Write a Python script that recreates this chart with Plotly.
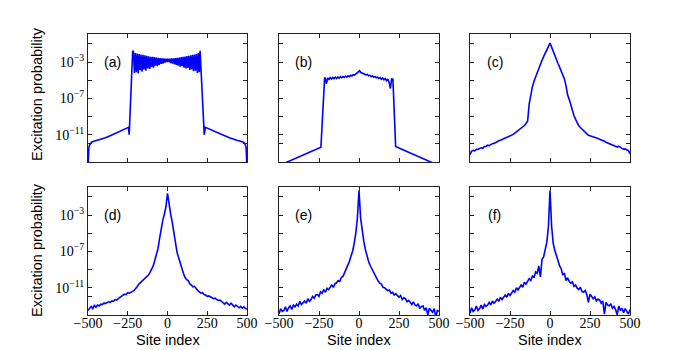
import plotly.graph_objects as go

# log10 of the excitation probability

# (a) sharp plateau with fast oscillations
site_a = [-500, -498, -495, -490, -485, -478, -468, -455, -440, -420, -390, -360, -330, -300, -270, -246,
          -241, -237, -219,
          -214, -208, -202, -196, -190, -184, -178, -172, -166, -160, -154, -148, -142, -136, -130, -124,
          -118, -112, -106, -100, -94, -88, -82, -76, -70, -64, -58, -52, -46, -40, -34, -28, -22, -16,
          -10, -4, 2, 8, 14, 20, 26, 32, 38, 44, 50, 56, 62, 68, 74, 80, 86, 92, 98, 104, 110, 116, 122,
          128, 134, 140, 146, 152, 158, 164, 170, 176, 182, 188, 194, 200,
          205, 228, 231, 238, 270, 300, 330, 360, 390, 420, 440, 455, 468, 478, 485, 490, 495, 498, 500]
logp_a = [-15, -13.2, -12.5, -12.1, -11.95, -11.82, -11.74, -11.68, -11.62, -11.52, -11.33, -11.1, -10.87,
          -10.62, -10.4, -10.18,
          -11.0, -9.6, -1.75,
          -1.85, -4.2, -2.0, -4.1, -2.05, -4.25, -2.1, -3.9, -2.15, -4.05, -2.2, -3.8, -2.25, -3.95, -2.3,
          -3.7, -2.35, -3.75, -2.4, -3.55, -2.42, -3.6, -2.45, -3.4, -2.5, -3.45, -2.52, -3.3, -2.55, -3.2,
          -2.58, -3.15, -2.6, -3.05, -2.62, -3.0, -2.63, -3.0, -2.62, -3.1, -2.6, -3.15, -2.58, -3.25, -2.55,
          -3.3, -2.52, -3.4, -2.5, -3.5, -2.45, -3.45, -2.42, -3.6, -2.38, -3.7, -2.33, -3.65, -2.3, -3.85,
          -2.25, -3.8, -2.2, -4.0, -2.15, -3.95, -2.1, -4.2, -2.0, -4.1,
          -1.75, -9.2, -11.0, -10.18, -10.4, -10.62, -10.86, -11.1, -11.33, -11.54, -11.63, -11.68, -11.74,
          -11.82, -11.95, -12.1, -12.5, -13.2, -15]

# (b) plateau with a small bump in the middle
site_b = [-500, -450, -400, -350, -300, -260, -238, -215,
          -212, -204, -196, -188, -180, -172, -164, -156, -148, -140, -132, -124, -116, -108, -100, -92,
          -84, -76, -68, -60, -52, -44, -36, -28, -20, -12, -4, 4, 12, 20, 28, 36, 44, 52, 60, 68, 76, 84,
          92, 100, 108, 116, 124, 132, 140, 148, 156, 164, 172, 180, 188, 196, 204,
          212, 229, 260, 300, 350, 400, 446, 500]
logp_b = [-14.4, -14.0, -13.62, -13.23, -12.85, -12.54, -12.37, -4.75,
          -4.7, -5.4, -4.75, -4.9, -4.7, -4.85, -4.68, -4.82, -4.66, -4.8, -4.64, -4.76, -4.6, -4.72, -4.58,
          -4.68, -4.55, -4.66, -4.5, -4.6, -4.45, -4.52, -4.38, -4.42, -4.3, -4.22, -4.05, -3.95, -4.15,
          -4.2, -4.3, -4.28, -4.4, -4.35, -4.5, -4.45, -4.58, -4.52, -4.65, -4.6, -4.72, -4.65, -4.8, -4.7,
          -4.88, -4.75, -4.95, -4.8, -5.05, -4.85, -5.2, -5.9, -4.85,
          -4.87, -12.3, -12.54, -12.85, -13.24, -13.63, -14.0, -14.4]

# (c)-(f) on a regular grid of sites
site_grid = list(range(-500, 501, 10))

logp_c = [-13.2, -12.8, -12.72, -12.78, -12.6, -12.62, -12.5, -12.44, -12.5, -12.3, -12.28, -12.15, -12.2,
          -12.05, -11.98, -11.95, -11.82, -11.72, -11.66, -11.6, -11.52, -11.44, -11.38, -11.3, -11.24,
          -11.15, -11.08, -10.96, -10.82, -10.68, -10.55, -10.42, -10.27, -10.12, -9.98, -9.75, -9.5, -7.6,
          -6.6, -5.7, -5.1, -4.6, -4.15, -3.7, -3.2, -2.8, -2.4, -2.0, -1.7, -1.35, -0.9, -1.35, -1.85, -2.3,
          -2.75, -3.15, -3.55, -4.0, -4.4, -4.85, -5.6, -6.6, -7.1, -7.7, -8.4, -8.9, -9.3, -9.75, -10.0,
          -10.2, -10.38, -10.5, -10.72, -10.92, -11.05, -11.1, -11.15, -11.22, -11.26, -11.3, -11.42, -11.5,
          -11.55, -11.62, -11.72, -11.82, -11.9, -11.98, -12.05, -12.18, -12.26, -12.3, -12.35, -12.25,
          -12.42, -12.5, -12.58, -12.55, -12.68, -12.72, -13.1]

logp_d = [-13.5, -13.2, -13.05, -13.3, -12.95, -13.15, -12.9, -13.0, -12.8, -12.85, -12.7, -12.72, -12.6,
          -12.55, -12.6, -12.45, -12.48, -12.3, -12.35, -12.15, -12.05, -11.95, -11.85, -11.7, -11.75,
          -11.55, -11.6, -11.45, -11.4, -11.3, -11.0, -10.85, -10.6, -10.45, -10.25, -10.15, -9.95, -9.8,
          -9.6, -9.3, -9.0, -8.6, -8.0, -7.4, -6.7, -5.6, -4.5, -3.6, -2.9, -2.1, -0.6, -1.9, -2.9, -3.8,
          -4.7, -6.0, -7.1, -7.7, -8.4, -8.9, -9.4, -9.85, -10.1, -10.2, -10.55, -10.7, -10.9, -10.85,
          -11.1, -11.3, -11.45, -11.6, -11.55, -11.75, -11.8, -11.95, -11.9, -12.05, -12.1, -12.2, -12.15,
          -12.3, -12.4, -12.35, -12.5, -12.55, -12.8, -12.6, -12.75, -12.9, -12.7, -12.95, -13.1, -12.9,
          -13.05, -13.2, -13.05, -13.25, -13.1, -13.3, -13.35]

logp_e = [-13.9, -13.3, -13.6, -13.5, -13.1, -13.6, -13.2, -13.0, -13.4, -12.9,
          -13.1, -12.8, -13.0, -12.5, -12.85, -12.6, -12.45, -12.7, -12.2, -12.5,
          -12.3, -11.95, -12.15, -11.8, -11.75, -11.95, -11.45, -11.6, -11.2, -11.5,
          -11.05, -11.2, -10.9, -10.7, -10.95, -10.55, -10.45, -10.2, -10.3, -9.85,
          -9.75, -9.35, -9.0, -8.5, -8.1, -7.5, -7.0, -6.1, -5.0, -3.3,
          -0.3,
          -3.3, -4.9, -5.9, -6.8, -7.5, -8.1, -8.55, -8.95, -9.3, -9.7,
          -9.95, -10.25, -10.5, -10.6, -10.95, -11.0, -11.2, -11.3, -11.25, -11.6,
          -11.5, -11.8, -11.65, -11.9, -12.05, -11.85, -12.3, -12.1, -12.2, -12.55,
          -12.4, -12.6, -12.85, -12.55, -12.9, -13.0, -12.75, -13.3, -13.05, -13.0,
          -13.5, -13.2, -14.0, -13.25, -13.45, -13.7, -13.3, -14.2, -13.5, -13.6]

logp_f = [-13.8, -13.2, -13.6, -13.45, -13.0, -13.5, -13.3, -12.9, -13.35, -12.85,
          -13.05, -12.9, -12.6, -12.9, -12.45, -12.7, -12.5, -12.25, -12.5, -12.05,
          -12.3, -12.0, -11.8, -12.05, -11.6, -11.85, -11.55, -11.3, -11.5, -11.0,
          -11.25, -10.95, -10.7, -10.95, -10.4, -10.6, -10.3, -10.0, -10.2, -9.7,
          -9.9, -9.25, -9.4, -8.6, -9.8, -7.9, -7.6, -6.9, -6.0, -4.3,
          -0.3,
          -4.2, -6.1, -6.9, -7.6, -8.0, -8.6, -8.9, -9.6, -9.4, -10.2,
          -9.9, -10.3, -10.5, -10.35, -10.85, -10.7, -11.05, -11.2, -10.95, -11.4,
          -11.5, -11.3, -11.75, -12.6, -11.7, -11.95, -12.2, -12.0, -12.45, -12.25,
          -12.35, -12.7, -12.45, -13.9, -12.6, -12.9, -13.0, -12.75, -13.25, -13.05,
          -13.4, -14.0, -13.0, -13.5, -13.25, -13.75, -13.3, -13.6, -13.9, -13.4]

panel_labels = ["(a)", "(b)", "(c)", "(d)", "(e)", "(f)"]
x_ticks = [-500, -250, 0, 250, 500]
y_tick_exp = [-1, -3, -5, -7, -9, -11, -12]
y_labelled = [-3, -7, -11]

panels = [(site_a, logp_a), (site_b, logp_b), (site_grid, logp_c),
          (site_grid, logp_d), (site_grid, logp_e), (site_grid, logp_f)]

# axes boxes in pixels of the 700x350 page
W, H = 700, 350
col_px = [(88, 247), (279, 439), (470, 630)]
row_px = [(34, 162), (187, 315)]

serif = "Liberation Serif"
sans = "Liberation Sans"
frame = "#222222"

fig = go.Figure()
layout = dict(width=W, height=H, margin=dict(l=0, r=0, t=0, b=0),
              paper_bgcolor="white", plot_bgcolor="white", showlegend=False)
annotations = []

for i, (sites, logp) in enumerate(panels):
    r, c = divmod(i, 3)
    n = "" if i == 0 else str(i + 1)
    fig.add_trace(go.Scatter(x=sites, y=[10 ** v for v in logp], mode="lines",
                             line=dict(color="#0000ff", width=1.6),
                             xaxis="x" + n, yaxis="y" + n, hoverinfo="skip"))
    x0, x1 = col_px[c]
    y0, y1 = row_px[r]
    layout["xaxis" + n] = dict(
        domain=[x0 / W, x1 / W], anchor="y" + n, range=[-500, 500], automargin=False,
        showline=True, linecolor=frame, linewidth=1, mirror="ticks",
        ticks="inside", ticklen=4, tickcolor=frame, ticklabelstandoff=-5,
        tickvals=x_ticks, ticktext=[str(v).replace("-", "\u2212") for v in x_ticks],
        showticklabels=(r == 1), tickfont=dict(family=serif, size=14, color="black"),
        showgrid=False, zeroline=False)
    layout["yaxis" + n] = dict(
        domain=[1 - y1 / H, 1 - y0 / H], anchor="x" + n, type="log", range=[-14, 0.1],
        automargin=False,
        showline=True, linecolor=frame, linewidth=1, mirror="ticks",
        ticks="inside", ticklen=4, tickcolor=frame,
        tickvals=[10 ** e for e in y_tick_exp],
        ticktext=[("10<sup>\u2212%d</sup>" % -e) if e in y_labelled else "" for e in y_tick_exp],
        showticklabels=(c == 0), tickfont=dict(family=serif, size=14, color="black"),
        showgrid=False, zeroline=False)
    annotations.append(dict(text=panel_labels[i], xref="paper", yref="paper",
                            x=(x0 + 24.5) / W, y=1 - (y0 + 28) / H, showarrow=False,
                            xanchor="center", yanchor="middle",
                            font=dict(family=sans, size=14, color="black")))
    if r == 1:
        annotations.append(dict(text="Site index", xref="paper", yref="paper",
                                x=(x0 + x1) / 2 / W, y=1 - 340 / H, showarrow=False,
                                xanchor="center", yanchor="middle",
                                font=dict(family=sans, size=14.5, color="black")))
    if c == 0:
        annotations.append(dict(text="Excitation probability", xref="paper", yref="paper",
                                x=37 / W, y=1 - (94 if r == 0 else 250) / H, showarrow=False,
                                textangle=-90, xanchor="center", yanchor="middle",
                                font=dict(family=sans, size=14.5, color="black")))

layout["annotations"] = annotations
fig.update_layout(**layout)
# the page's default body margin would shift the figure by 8 px
fig.write_html("out.html", config={"displayModeBar": False},
               post_script="document.body.style.margin='0px';")
